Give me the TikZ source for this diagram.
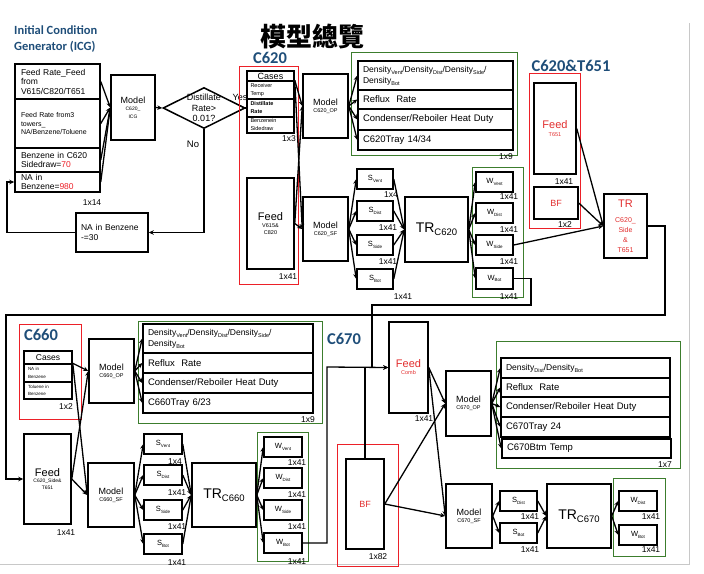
\documentclass[tikz,border=0pt]{standalone}
\usepackage{fontspec}
\setmainfont{Liberation Sans}
\newfontfamily\titlefont{Carlito}
\newfontfamily\cjkfont{Noto Sans CJK TC}
\usetikzlibrary{arrows.meta,shapes.geometric}
\definecolor{rd}{RGB}{236,32,40}
\definecolor{gr}{RGB}{60,125,45}
\definecolor{tblue}{RGB}{31,78,121}
\definecolor{gry}{RGB}{200,200,200}
\definecolor{rtx}{RGB}{225,45,45}
\newcommand\fz[2]{\fontsize{#1}{#2}\selectfont}
\newcommand\subx[2]{\raisebox{-0.45ex}{\fz{#1}{#1}#2}}
\newcommand\Bx[6][]{\node[bx,minimum width={(#4)-(#2)},minimum height={(#5)-(#3)},#1] (#6) at ({((#2)+(#4))/2},{((#3)+(#5))/2})}
\begin{document}
\begin{tikzpicture}[x=1pt,y=-1pt,
  bx/.style={draw,line width=1.5pt,inner xsep=1pt,inner ysep=0pt,align=center},
  rbx/.style={draw=rd,line width=1pt},
  gbx/.style={draw=gr,line width=1pt},
  ln/.style={line width=1.3pt},
  arr/.style={line width=1.3pt,-{Stealth[length=5pt,width=4.5pt]}},
  lbl/.style={font=\fz{8.5}{9},inner sep=0pt},
  ttl/.style={font=\titlefont\bfseries\fz{16.5}{17},text=tblue,inner sep=0pt},
  rowt/.style={text width=#1,align=left,font=\fz{9.5}{10.5}},
  mdl/.style={font=\fz{9}{7}},
  sbx/.style={font=\fz{7.5}{8}},
]
\useasboundingbox (0,0) rectangle (704,573);
% frame
\coordinate (f1) at (689,23);
\coordinate (f2) at (689,564);
\coordinate (f3) at (0,564);
\draw[gry,line width=1pt] (f1) -- (f2) -- (f3);

% titles
\node[font=\titlefont\bfseries\fz{12.5}{15.5},text=tblue,align=left,anchor=north west,inner sep=0pt] (tICG) at (14,26) {Initial Condition\\Generator (ICG)};
\node[font=\cjkfont\bfseries\fz{26}{26},inner sep=0pt] (tMain) at (312,37) {模型總覽};
\node[ttl] (t620) at (270,58) {C620};
\node[ttl] (t651) at (571,66) {C620\&T651};
\node[ttl] (t660) at (41,335) {C660};
\node[ttl] (t670) at (344,339) {C670};

% ===== ICG =====
\Bx[text width=73pt,align=left,font=\fz{8.5}{9.5}]{15}{64}{100}{99}{icgA} {Feed Rate\_Feed\\from\\V615/C820/T651};
\Bx[text width=73pt,align=left,font=\fz{7}{8.5}]{15}{99}{100}{148}{icgB} {Feed Rate from3\\towers\_\\NA/Benzene/Toluene};
\Bx[text width=73pt,align=left,font=\fz{8.5}{9.5}]{15}{148}{100}{172}{icgC} {Benzene in C620\\Sidedraw=\textcolor{rd}{70}};
\Bx[text width=73pt,align=left,font=\fz{8.5}{9.5}]{15}{172}{100}{192}{icgD} {NA in\\Benzene=\textcolor{rd}{980}};
\node[lbl] (l14) at (92,203) {1x14};
\Bx[mdl]{111}{75}{155}{140}{mICG} {Model\\\fz{5}{5.5}C620\_\\[1pt]\fz{5}{5.5}ICG};
\node[draw,diamond,line width=1.5pt,minimum width=82pt,minimum height=41pt,inner sep=0pt] (dia) at (204,108) {};
\node[font=\fz{9}{10.5},align=center,inner sep=0pt] (diaT) at (204,108) {Distillate\\Rate>\\0.01?};
\node[font=\fz{9}{9},inner sep=0pt] (yes) at (240,97) {Yes};
\node[font=\fz{9.5}{9.5},inner sep=0pt] (no) at (193,144) {No};
\Bx[text width=62pt,align=left,font=\fz{8.5}{10}]{76}{213}{148}{252}{na} {NA in Benzene\\-=30};

\foreach \n in {icgA,icgB,icgC,icgD} \draw[arr] (\n.east) -- (mICG.west);
\draw[arr] (mICG.east) -- (dia.west);
\draw[arr] (dia.south) |- (na.east);
\coordinate (k1) at (7,0);
\draw[arr] (na.west) -- (na.west -| k1) |- (icgD.west);

% ===== C620 =====
\Bx[rbx]{239}{66}{298}{284}{r620} {};
\Bx[font=\fz{9}{9}]{247}{71}{294}{81}{c620r0} {Cases};
\Bx[text width=40pt,align=left,font=\fz{5.5}{8}]{247}{81}{294}{99}{c620r1} {Receiver\\Temp};
\Bx[text width=40pt,align=left,font=\bfseries\fz{5.5}{8}]{247}{99}{294}{117}{c620r2} {Distillate\\Rate};
\Bx[text width=40pt,align=left,font=\fz{5.5}{8}]{247}{117}{294}{133}{c620r3} {Benzenein\\Sidedraw};
\node[lbl] (l620c) at (289,139) {1x3};
\draw[arr] (dia.east) -- (c620r2.west);
\Bx[font=\fz{11}{7}]{247}{178}{294}{269}{feed620} {Feed\\\fz{5.5}{6.5}V615\&\\\fz{5.5}{6.5}C820};
\node[lbl] (l620f) at (288,277) {1x41};
\Bx[mdl]{303}{74}{348}{138}{mOP620} {Model\\\fz{5.5}{6}C620\_OP};
\Bx[mdl]{303}{197}{348}{261}{mSF620} {Model\\\fz{5.5}{6}C620\_SF};

\Bx[gbx]{351}{52}{517}{155}{g620} {};
\Bx[rowt=145pt,font=\fz{8.5}{11}]{358}{61}{513}{90}{o620a} {Density\subx{5.5}{Vent}/Density\subx{5.5}{Dist}/Density\subx{5.5}{Side}/\\Density\subx{5.5}{Bot}};
\Bx[rowt=145pt]{358}{90}{513}{109}{o620b} {Reflux\ \ Rate};
\Bx[rowt=145pt]{358}{109}{513}{130}{o620c} {Condenser/Reboiler\ Heat\ Duty};
\Bx[rowt=145pt]{358}{130}{513}{150}{o620d} {C620Tray 14/34};
\node[lbl] (l620o) at (506,157) {1x9};

\Bx[sbx]{357}{169}{393}{189}{s620v} {S\subx{4.5}{Vent}};
\Bx[sbx]{357}{201}{393}{221}{s620d} {S\subx{4.5}{Dist}};
\Bx[sbx]{357}{235}{393}{255}{s620s} {S\subx{4.5}{Side}};
\Bx[sbx]{357}{269}{393}{289}{s620b} {S\subx{4.5}{Bot}};
\node[lbl] (l620s1) at (391,195) {1x4};
\node[lbl] (l620s2) at (388,228) {1x41};
\node[lbl] (l620s3) at (388,262) {1x41};
\node[lbl] (l620s4) at (403,297) {1x41};
\Bx[font=\fz{14}{14}]{405}{197}{468}{262}{tr620} {TR\subx{9.5}{C620}};

\Bx[gbx]{472}{167}{523}{297}{gw620} {};
\Bx[sbx]{476}{172}{513}{192}{w620v} {W\subx{4.5}{Vent}};
\Bx[sbx]{476}{203}{513}{223}{w620d} {W\subx{4.5}{Dist}};
\Bx[sbx]{476}{235}{513}{255}{w620s} {W\subx{4.5}{Side}};
\Bx[sbx]{476}{268}{513}{289}{w620b} {W\subx{4.5}{Bot}};
\node[lbl] (l620w1) at (509,197) {1x41};
\node[lbl] (l620w2) at (509,230) {1x41};
\node[lbl] (l620w3) at (509,262) {1x41};
\node[lbl] (l620w4) at (509,297) {1x41};

\draw[arr] (c620r1.north east) -- (mOP620.west);
\draw[arr] (c620r1.north east) -- (mSF620.west);
\draw[arr] (feed620.east) -- (mOP620.west);
\draw[arr] (feed620.east) -- (mSF620.west);
\foreach \n in {o620a,o620b,o620c,o620d} \draw[arr] (mOP620.east) -- (\n.west);
\foreach \n in {s620v,s620d,s620s,s620b} {\draw[arr] (mSF620.east) -- (\n.west); \draw[arr] (\n.east) -- (tr620.west);}
\foreach \n in {w620v,w620d,w620s,w620b} \draw[arr] (tr620.east) -- (\n.west);

% ===== C620 & T651 =====
\Bx[rbx]{529}{73}{580}{228}{r651} {};
\Bx[font=\fz{11}{7.5},text=rtx]{534}{83}{576}{174}{feed651} {Feed\\\fz{5.5}{7}T651};
\node[lbl] (l651f) at (564,182) {1x41};
\Bx[font=\fz{9}{9},text=rtx]{534}{187}{578}{219}{bf651} {BF};
\node[lbl] (l651b) at (565,225) {1x2};
\Bx[font=\fz{11}{10},text=rtx]{604}{194}{647}{258}{tr651} {TR\\[5pt]\fz{7}{10}C620\_\\\fz{7}{10}Side\\\fz{7}{10}\&\\\fz{7}{10}T651};
\foreach \n in {feed651,bf651,w620s} \draw[arr] (\n.east) -- (tr651.west);

% ===== C660 =====
\Bx[rbx]{19}{324}{81}{419}{r660} {};
\Bx[font=\fz{8.5}{9}]{24}{351}{72}{364}{c660r0} {Cases};
\Bx[text width=40pt,align=left,font=\fz{4.5}{7.5}]{24}{364}{72}{382}{c660r1} {NA in\\Benzene};
\Bx[text width=40pt,align=left,font=\fz{4.5}{7.5}]{24}{382}{72}{399}{c660r2} {Toluene in\\Benzene};
\node[lbl] (l660c) at (66,407) {1x2};
\Bx[font=\fz{11}{6.5}]{24}{434}{71}{524}{feed660} {Feed\\\fz{5}{6}C620\_Side\&\\\fz{5}{6}T651};
\node[lbl] (l660f) at (66,533) {1x41};
\Bx[mdl]{89}{339}{134}{403}{mOP660} {Model\\\fz{5.5}{6}C660\_OP};
\Bx[mdl]{88}{463}{134}{527}{mSF660} {Model\\\fz{5.5}{6}C660\_SF};

\Bx[gbx]{138}{321}{322}{423}{g660} {};
\Bx[rowt=160pt,font=\fz{8.5}{11}]{143}{324}{313}{353}{o660a} {Density\subx{5.5}{Vent}/Density\subx{5.5}{Dist}/Density\subx{5.5}{Side}/\\Density\subx{5.5}{Bot}};
\Bx[rowt=160pt]{143}{353}{313}{373}{o660b} {Reflux\ \ Rate};
\Bx[rowt=160pt]{143}{373}{313}{393}{o660c} {Condenser/Reboiler\ Heat\ Duty};
\Bx[rowt=160pt]{143}{393}{313}{413}{o660d} {C660Tray 6/23};
\node[lbl] (l660o) at (308,420) {1x9};

\Bx[sbx]{144}{434}{182}{454}{s660v} {S\subx{4.5}{Vent}};
\Bx[sbx]{144}{465}{182}{485}{s660d} {S\subx{4.5}{Dist}};
\Bx[sbx]{144}{500}{182}{520}{s660s} {S\subx{4.5}{Side}};
\Bx[sbx]{144}{534}{182}{554}{s660b} {S\subx{4.5}{Bot}};
\node[lbl] (l660s1) at (175,462) {1x4};
\node[lbl] (l660s2) at (177,493) {1x41};
\node[lbl] (l660s3) at (177,527) {1x41};
\node[lbl] (l660s4) at (177,563) {1x41};
\Bx[font=\fz{14}{14}]{192}{463}{256}{527}{tr660} {TR\subx{9.5}{C660}};

\Bx[gbx]{257}{432}{308}{561}{gw660} {};
\Bx[sbx]{264}{437}{302}{457}{w660v} {W\subx{4.5}{Vent}};
\Bx[sbx]{264}{468}{302}{488}{w660d} {W\subx{4.5}{Dist}};
\Bx[sbx]{264}{500}{302}{520}{w660s} {W\subx{4.5}{Side}};
\Bx[sbx]{264}{533}{302}{553}{w660b} {W\subx{4.5}{Bot}};
\node[lbl] (l660w1) at (297,463) {1x41};
\node[lbl] (l660w2) at (297,495) {1x41};
\node[lbl] (l660w3) at (297,527) {1x41};
\node[lbl] (l660w4) at (297,562) {1x41};

\draw[arr] (c660r1.north east) -- (mOP660.west);
\draw[arr] (c660r1.north east) -- (mSF660.west);
\draw[arr] (feed660.east) -- (mOP660.west);
\draw[arr] (feed660.east) -- (mSF660.west);
\foreach \n in {o660a,o660b,o660c,o660d} \draw[arr] (mOP660.east) -- (\n.west);
\foreach \n in {s660v,s660d,s660s,s660b} {\draw[arr] (mSF660.east) -- (\n.west); \draw[arr] (\n.east) -- (tr660.west);}
\foreach \n in {w660v,w660d,w660s,w660b} \draw[arr] (tr660.east) -- (\n.west);

% ===== C670 =====
\Bx[font=\fz{11}{7},text=rtx]{389}{322}{428}{413}{feedcomb} {Feed\\\fz{5.5}{7}Comb};
\node[lbl] (l670f) at (424,419) {1x41};
\Bx[rbx]{337}{444}{398}{566}{r670} {};
\Bx[font=\fz{9}{9},text=rtx]{346}{459}{384}{549}{bf670} {BF};
\node[lbl] (l670b) at (378,557) {1x82};
\Bx[mdl]{446}{371}{491}{436}{mOP670} {Model\\\fz{5.5}{6}C670\_OP};
\Bx[mdl]{446}{484}{492}{548}{mSF670} {Model\\\fz{5.5}{6}C670\_SF};

\Bx[gbx]{496}{341}{680}{468}{g670} {};
\Bx[rowt=159pt,font=\fz{8.5}{11}]{501}{358}{670}{378}{o670a} {Density\subx{5.5}{Dist}/Density\subx{5.5}{Bot}};
\Bx[rowt=159pt]{501}{378}{670}{397}{o670b} {Reflux\ \ Rate};
\Bx[rowt=159pt]{501}{397}{670}{417}{o670c} {Condenser/Reboiler\ Heat\ Duty};
\Bx[rowt=159pt]{501}{417}{670}{437}{o670d} {C670Tray 24};
\Bx[rowt=159pt]{502}{439}{671}{458}{o670e} {C670Btm Temp};
\node[lbl] (l670o) at (665,465) {1x7};

\Bx[sbx]{500}{491}{537}{511}{s670d} {S\subx{4.5}{Dist}};
\Bx[sbx]{500}{523}{537}{543}{s670b} {S\subx{4.5}{Bot}};
\node[lbl] (l670s1) at (530,517) {1x41};
\node[lbl] (l670s2) at (530,550) {1x41};
\Bx[font=\fz{14}{14}]{547}{484}{611}{548}{tr670} {TR\subx{9.5}{C670}};

\Bx[gbx]{613}{478}{665}{556}{gw670} {};
\Bx[sbx]{619}{491}{657}{511}{w670d} {W\subx{4.5}{Dist}};
\Bx[sbx]{619}{525}{657}{545}{w670b} {W\subx{4.5}{Bot}};
\node[lbl] (l670w1) at (651,517) {1x41};
\node[lbl] (l670w2) at (651,550) {1x41};

\draw[arr] (feedcomb.east) -- (mOP670.west);
\draw[arr] (feedcomb.east) -- (mSF670.west);
\draw[arr] (bf670.east) -- (mOP670.west);
\draw[arr] (bf670.east) -- (mSF670.west);
\foreach \n in {o670a,o670b,o670c,o670d,o670e} \draw[arr] (mOP670.east) -- (\n.west);
\foreach \n in {s670d,s670b} {\draw[arr] (mSF670.east) -- (\n.west); \draw[arr] (\n.east) -- (tr670.west);}
\foreach \n in {w670d,w670b} \draw[arr] (tr670.east) -- (\n.west);

% ===== long connectors =====
\coordinate (k2) at (665,315);
\coordinate (k3) at (6,315);
\draw[arr] (tr651.east) -| (k2) -- (k3) |- (feed660.west);
\coordinate (k4) at (531,305);
\coordinate (k5) at (372,305);
\draw[arr] (w620b.east) -| (k4) -- (k5) |- (feedcomb.west);
\coordinate (k6) at (327,367);
\draw[arr] (w660b.east) -| (k6) -- (feedcomb.west);
\draw[ln] (bf670.north) -- (bf670.north |- feedcomb.west);
\end{tikzpicture}
\end{document}
